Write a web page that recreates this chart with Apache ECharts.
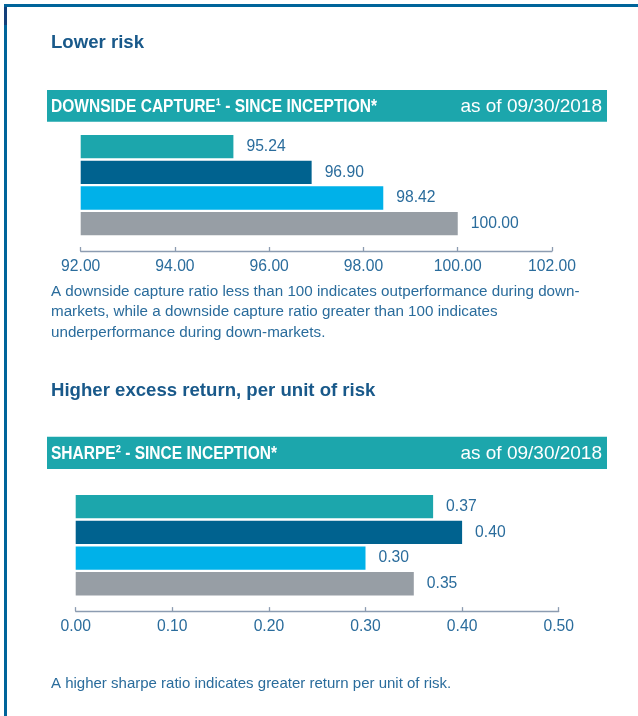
<!DOCTYPE html>
<html>
<head>
<meta charset="utf-8">
<script src="https://cdn.jsdelivr.net/npm/echarts@6/dist/echarts.min.js"></script>
<style>
html,body{margin:0;padding:0;background:#fff;}
#c{width:638px;height:716px;}
</style>
</head>
<body>
<div id="c"></div>
<script>
// ---- data ----
var categories = ['Fund', 'Peer A', 'Peer B', 'Index'];
var barColors = ['#1ca6ac', '#00628f', '#00b1e9', '#979ea5'];

var downsideValues = [95.24, 96.90, 98.42, 100.00];
var downsideTicks = [92, 94, 96, 98, 100, 102];

var sharpeValues = [0.37, 0.40, 0.30, 0.35];
var sharpeTicks = [0.0, 0.1, 0.2, 0.3, 0.4, 0.5];

var title1 = 'Lower risk';
var header1 = 'DOWNSIDE CAPTURE\u00b9 - SINCE INCEPTION*';
var note1 = ['A downside capture ratio less than 100 indicates outperformance during down-',
             'markets, while a downside capture ratio greater than 100 indicates',
             'underperformance during down-markets.'];
var title2 = 'Higher excess return, per unit of risk';
var header2 = 'SHARPE\u00b2 - SINCE INCEPTION*';
var note2 = 'A higher sharpe ratio indicates greater return per unit of risk.';
var asOf = 'as of 09/30/2018';

// ---- styles ----
var FONT = '"Liberation Sans", Arial, sans-serif';
var TITLE_C = '#19598a';
var TEXT_C = '#2a6c9c';
var AXIS_C = '#8c9cb1';

var chart = echarts.init(document.getElementById('c'), null, {renderer: 'canvas'});

function xAxisCfg(gi, ticks) {
  return {
    type: 'value', gridIndex: gi,
    min: ticks[0], max: ticks[ticks.length - 1],
    interval: ticks[1] - ticks[0],
    offset: 14.5,
    axisLine: {show: true, lineStyle: {color: AXIS_C, width: 1.3}},
    axisTick: {show: true, inside: true, length: 4, lineStyle: {color: AXIS_C, width: 1.3}},
    splitLine: {show: false},
    axisLabel: {
      margin: 8, color: TEXT_C, fontFamily: FONT, fontSize: 15.7,
      formatter: function (v) { return v.toFixed(2); }
    }
  };
}
function yAxisCfg(gi) {
  return {
    type: 'category', gridIndex: gi, data: categories, inverse: true,
    axisLine: {show: false}, axisTick: {show: false}, axisLabel: {show: false}
  };
}
function seriesCfg(gi, vals) {
  return {
    type: 'bar', xAxisIndex: gi, yAxisIndex: gi,
    barWidth: 23.3,
    data: vals.map(function (v, i) { return {value: v, itemStyle: {color: barColors[i]}}; }),
    label: {
      show: true, position: 'right', distance: 13,
      color: TEXT_C, fontFamily: FONT, fontSize: 15.7,
      formatter: function (p) { return p.value.toFixed(2); }
    },
    silent: true
  };
}

function headerGroup(y, h, text) {
  return [
    {type: 'rect', shape: {x: 47, y: y, width: 560, height: h}, style: {fill: '#1ca6ac'}},
    {type: 'text', x: 51, y: y + h / 2 + 0.5, scaleX: 0.817, style: {text: text, fill: '#fff',
      font: 'bold 19px ' + FONT, textVerticalAlign: 'middle', textAlign: 'left'}},
    {type: 'text', x: 602, y: y + h / 2 + 0.5, style: {text: asOf, fill: '#fff',
      font: '19px ' + FONT, textVerticalAlign: 'middle', textAlign: 'right'}}
  ];
}

var graphics = [
  {type: 'rect', shape: {x: 4, y: 4, width: 634, height: 3}, style: {fill: '#00649a'}},
  {type: 'rect', shape: {x: 4, y: 4, width: 3, height: 712}, style: {fill: '#00649a'}},
  {type: 'rect', shape: {x: 4, y: 7, width: 3, height: 18}, style: {fill: '#133f7a'}},
  {type: 'text', x: 51, y: 43, style: {text: title1, fill: TITLE_C, font: 'bold 18.6px ' + FONT,
    textVerticalAlign: 'middle'}},
  {type: 'text', x: 51, y: 391, style: {text: title2, fill: TITLE_C, font: 'bold 18.6px ' + FONT,
    textVerticalAlign: 'middle'}},
  {type: 'text', x: 51, y: 683.5, style: {text: note2, fill: TEXT_C, font: '15px ' + FONT,
    textVerticalAlign: 'middle'}}
];
note1.forEach(function (line, i) {
  graphics.push({type: 'text', x: 51, y: 291.7 + i * 20.5, style: {text: line, fill: TEXT_C,
    font: '15.2px ' + FONT, textVerticalAlign: 'middle'}});
});
graphics = graphics.concat(headerGroup(90, 31.7, header1), headerGroup(436.7, 32.3, header2));

chart.setOption({
  animation: false,
  backgroundColor: '#fff',
  grid: [
    {left: 80.7, top: 133.8, width: 471.3, height: 102.7},
    {left: 75.7, top: 493.8, width: 483, height: 102.8}
  ],
  xAxis: [xAxisCfg(0, downsideTicks), xAxisCfg(1, sharpeTicks)],
  yAxis: [yAxisCfg(0), yAxisCfg(1)],
  series: [seriesCfg(0, downsideValues), seriesCfg(1, sharpeValues)],
  graphic: graphics
});
</script>
</body>
</html>
